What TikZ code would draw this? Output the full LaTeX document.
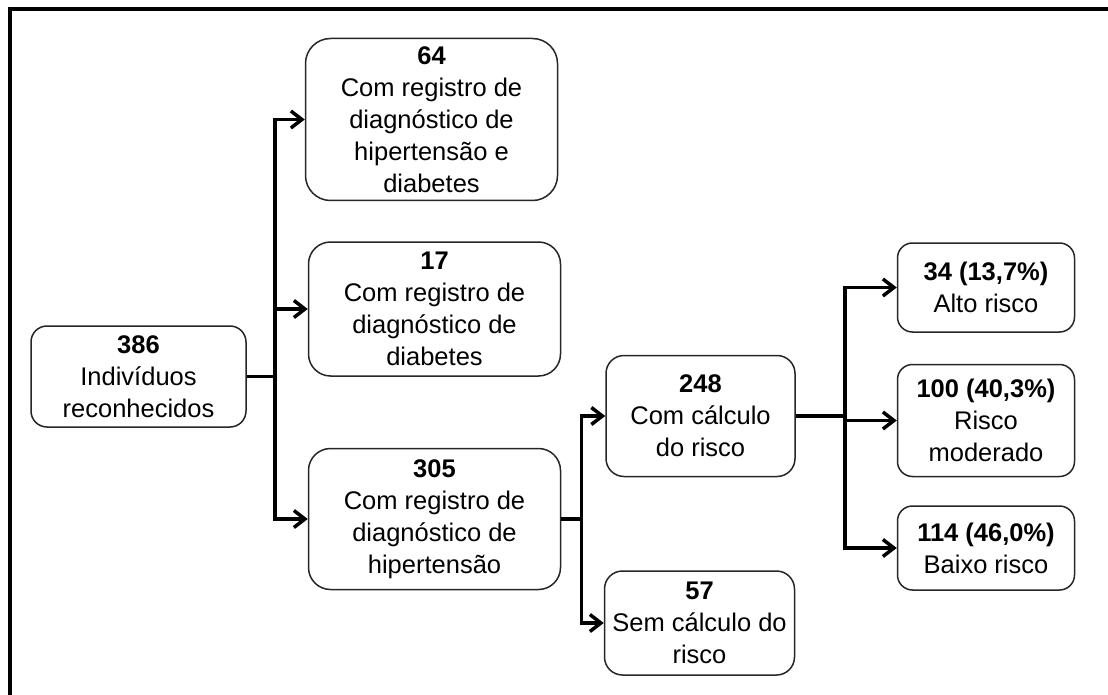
\documentclass[tikz,border=0pt]{standalone}
\usepackage{fontspec}
\setmainfont{Liberation Sans}
\usetikzlibrary{positioning,arrows.meta}

\tikzset{
  box/.style={draw=black!85, line width=1.5pt, rounded corners=16pt,
    align=center, inner sep=0pt, font=\fontsize{25.5}{32}\selectfont},
  wide/.style={minimum width=252pt, rounded corners=22pt},
  mid/.style={minimum width=189pt, rounded corners=18pt},
  small/.style={minimum width=177pt, rounded corners=15pt},
  link/.style={line width=3.5pt},
  arr/.style={link, -{Straight Barb[length=11pt,width=17pt]}},
}

\begin{document}
\begin{tikzpicture}[x=1pt,y=-1pt]
  \useasboundingbox (0,0) rectangle (1108,695);
  % frame
  \draw[line width=4pt] (1115,9.5) -- (10,9.5) -- (10,700);

  \node[box, minimum width=215pt, minimum height=101pt] (a) at (138.5,376.5)
    {\textbf{386}\\Indivíduos\\reconhecidos};
  \node[box, wide, minimum height=134pt, right=61pt of a, yshift=67.5pt] (b17)
    {\textbf{17}\\Com registro de\\diagnóstico de\\diabetes};
  \node[box, wide, minimum height=162pt, rounded corners=25pt, above=40pt of b17, xshift=-3pt] (b64)
    {\textbf{64}\\Com registro de\\diagnóstico de\\hipertensão e\\diabetes};
  \node[box, wide, minimum height=141pt, below=71pt of b17] (b305)
    {\textbf{305}\\Com registro de\\diagnóstico de\\hipertensão};
  \node[box, mid, minimum height=121pt, right=44pt of b305, yshift=103pt] (b248)
    {\textbf{248}\\Com cálculo\\do risco};
  \node[box, mid, minimum width=190pt, minimum height=104pt, below=93pt of b248, xshift=-1pt] (b57)
    {\textbf{57}\\Sem cálculo do\\risco};
  \node[box, small, minimum height=112pt, right=101pt of b248, yshift=-4.5pt] (b100)
    {\textbf{100 (40,3\%)}\\Risco\\moderado};
  \node[box, small, minimum height=89pt, above=31pt of b100] (b34)
    {\textbf{34 (13,7\%)}\\Alto risco};
  \node[box, small, minimum height=84pt, below=28pt of b100] (b114)
    {\textbf{114 (46,0\%)}\\Baixo risco};

  % branches
  \coordinate[right=28pt of a] (ja);
  \draw[link] (a) -- (ja);
  \foreach \t in {b64,b17,b305}
    \draw[arr] (ja) |- (\t.west);

  \coordinate[right=20pt of b305] (jb);
  \draw[link] (b305) -- (jb);
  \foreach \t in {b248,b57}
    \draw[arr] (jb) |- (\t.west);

  \coordinate[right=49pt of b248] (jc);
  \draw[link] (b248) -- (jc);
  \foreach \t in {b34,b100,b114}
    \draw[arr] (jc) |- (\t.west);
\end{tikzpicture}
\end{document}
